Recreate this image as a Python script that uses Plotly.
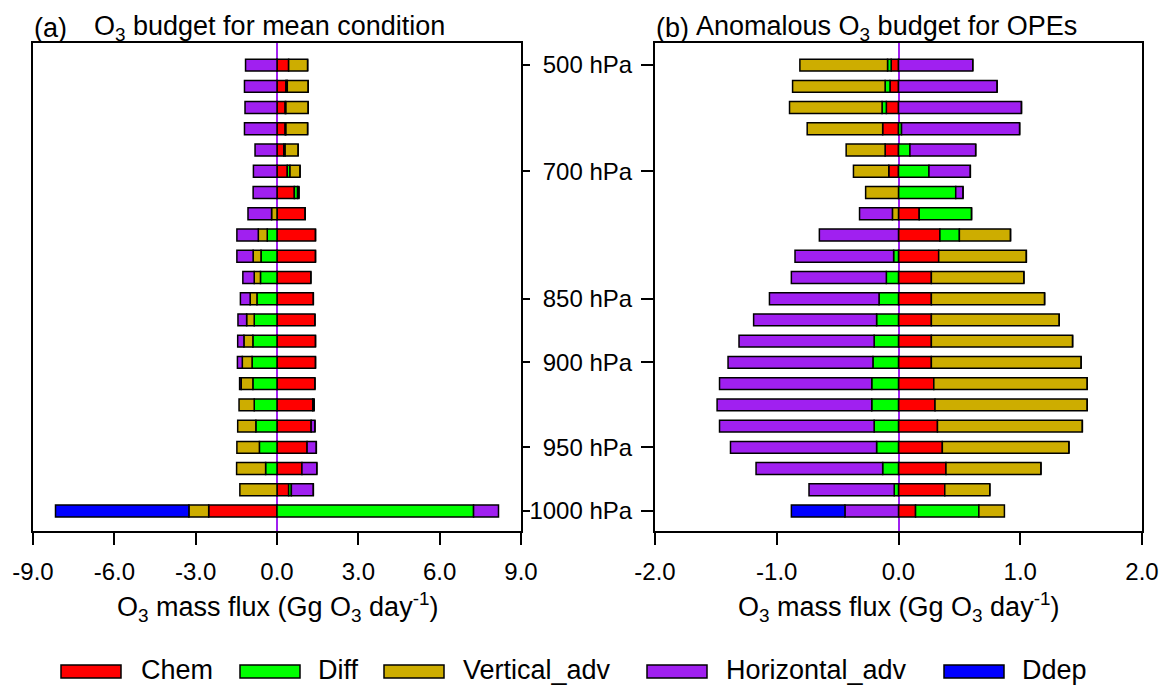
import plotly.graph_objects as go

# ---------------- data ----------------
levels = list(range(22))  # model levels from 500 hPa (top) to 1000 hPa (bottom)
tick_levels = [0, 5, 11, 14, 18, 21]
tick_text = ["500 hPa", "700 hPa", "850 hPa", "900 hPa", "950 hPa", "1000 hPa"]

names = ["Chem", "Diff", "Vertical_adv", "Horizontal_adv", "Ddep"]
colors = ["#FF0000", "#00FF00", "#CDAD00", "#A020F0", "#0000FF"]

# (a) mean condition
a_chem = [0.43, 0.33, 0.30, 0.30, 0.25, 0.38, 0.64, 1.04, 1.42, 1.42, 1.25,
          1.34, 1.40, 1.42, 1.42, 1.40, 1.32, 1.26, 1.11, 0.92, 0.43, -2.52]
a_diff = [0.0, 0.05, 0.03, 0.03, 0.05, 0.10, 0.12, 0.0, -0.36, -0.59, -0.61,
          -0.74, -0.84, -0.89, -0.92, -0.89, -0.84, -0.78, -0.65, -0.42, 0.10, 7.25]
a_vadv = [0.70, 0.77, 0.82, 0.80, 0.48, 0.37, 0.05, -0.20, -0.33, -0.29, -0.23,
          -0.25, -0.28, -0.33, -0.36, -0.43, -0.56, -0.67, -0.83, -1.07, -1.37, -0.73]
a_hadv = [-1.16, -1.20, -1.18, -1.20, -0.81, -0.87, -0.88, -0.87, -0.79, -0.60, -0.42,
          -0.36, -0.32, -0.23, -0.18, -0.06, 0.05, 0.14, 0.34, 0.55, 0.81, 0.92]
a_ddep = [0.0] * 21 + [-4.92]

# (b) anomalous budget for OPEs
b_chem = [-0.06, -0.07, -0.10, -0.13, -0.11, -0.08, 0.0, 0.17, 0.34, 0.33, 0.27,
          0.27, 0.27, 0.27, 0.27, 0.29, 0.30, 0.32, 0.36, 0.39, 0.38, 0.14]
b_diff = [-0.03, -0.04, -0.035, 0.025, 0.094, 0.25, 0.47, 0.43, 0.16, -0.04, -0.10,
          -0.16, -0.18, -0.20, -0.21, -0.22, -0.22, -0.20, -0.18, -0.13, -0.035, 0.52]
b_vadv = [-0.72, -0.76, -0.76, -0.62, -0.32, -0.29, -0.27, -0.05, 0.42, 0.72, 0.76,
          0.93, 1.05, 1.16, 1.23, 1.26, 1.25, 1.19, 1.04, 0.78, 0.37, 0.21]
b_hadv = [0.61, 0.81, 1.01, 0.97, 0.54, 0.34, 0.06, -0.27, -0.65, -0.81, -0.78,
          -0.90, -1.01, -1.11, -1.19, -1.25, -1.27, -1.27, -1.20, -1.04, -0.70, -0.44]
b_ddep = [0.0] * 21 + [-0.44]

a_xticks = [-9, -6, -3, 0, 3, 6, 9]
b_xticks = [-2, -1, 0, 1, 2]

# ---------------- layout helpers ----------------
W, H = 1165, 685
ML, MR, MT, MB = 33, 23, 43, 154
PW, PH = W - ML - MR, H - MT - MB
FONT = "Liberation Sans, Arial, Helvetica, sans-serif"


def px(x):
    return (x - ML) / PW


def py(y):
    return 1 - (y - MT) / PH


fig = go.Figure()

series_a = [a_chem, a_diff, a_vadv, a_hadv, a_ddep]
series_b = [b_chem, b_diff, b_vadv, b_hadv, b_ddep]

for vals, name, col in zip(series_a, names, colors):
    fig.add_trace(go.Bar(y=levels, x=vals, orientation="h", name=name,
                         marker=dict(color=col, line=dict(color="black", width=1.5)),
                         width=0.56, xaxis="x", yaxis="y", showlegend=False))
for vals, name, col in zip(series_b, names, colors):
    fig.add_trace(go.Bar(y=levels, x=vals, orientation="h", name=name,
                         marker=dict(color=col, line=dict(color="black", width=1.5)),
                         width=0.56, xaxis="x2", yaxis="y2", showlegend=False))

yrange = [21.94, -1.04]
axis_common = dict(showline=True, linecolor="black", linewidth=2, mirror=True,
                   showgrid=False, tickcolor="black", tickwidth=2, automargin=False,
                   tickfont=dict(size=24, color="black", family=FONT))

fig.update_layout(
    width=W, height=H, barmode="relative",
    margin=dict(l=ML, r=MR, t=MT, b=MB),
    paper_bgcolor="white", plot_bgcolor="white",
    font=dict(family=FONT, color="black"),
    xaxis=dict(domain=[0, px(521)], range=[-9, 9], anchor="y",
               tickvals=a_xticks, ticktext=[f"{v:.1f}" for v in a_xticks],
               ticks="outside", ticklen=12, ticklabelstandoff=6,
               zeroline=True, zerolinecolor="#A020F0", zerolinewidth=1.5,
               **axis_common),
    yaxis=dict(domain=[0, 1], range=yrange, anchor="x", side="right",
               tickvals=tick_levels, ticks="outside", ticklen=7,
               showticklabels=False, zeroline=False, **axis_common),
    xaxis2=dict(domain=[px(655), 1], range=[-2, 2], anchor="y2",
                tickvals=b_xticks, ticktext=[f"{v:.1f}" for v in b_xticks],
                ticks="outside", ticklen=12, ticklabelstandoff=6,
                zeroline=True, zerolinecolor="#A020F0", zerolinewidth=1.5,
                **axis_common),
    yaxis2=dict(domain=[0, 1], range=yrange, anchor="x2", side="left",
                tickvals=tick_levels, ticktext=tick_text, ticks="outside",
                ticklen=12, ticklabelstandoff=4, zeroline=False, **axis_common),
)

ann = []
ty = py(28)
ann.append(dict(text="(a)", x=px(32), y=ty, xanchor="left", yanchor="middle"))
ann.append(dict(text="O<sub>3</sub> budget for mean condition", x=px(92), y=ty,
                xanchor="left", yanchor="middle"))
ann.append(dict(text="(b)", x=px(654), y=ty, xanchor="left", yanchor="middle"))
ann.append(dict(text="Anomalous O<sub>3</sub> budget for OPEs", x=px(694), y=ty,
                xanchor="left", yanchor="middle"))
for a in ann:
    a.update(xref="paper", yref="paper", showarrow=False,
             font=dict(size=27, color="black", family=FONT))

xt = "O<sub>3</sub> mass flux (Gg O<sub>3</sub> day<sup>-1</sup>)"
for cx in [(33 + 521) / 2, (655 + 1142) / 2]:
    ann.append(dict(text=xt, x=px(cx), y=py(607), xref="paper", yref="paper",
                    xanchor="center", yanchor="middle", showarrow=False,
                    font=dict(size=27, color="black", family=FONT)))

# custom legend (wide boxes like the original)
leg_box_x = [61, 240, 384, 647, 944]
leg_txt_x = [139, 316, 461, 724, 1020]
shapes = []
for bx, tx, name, col in zip(leg_box_x, leg_txt_x, names, colors):
    shapes.append(dict(type="rect", xref="paper", yref="paper",
                       x0=px(bx), x1=px(bx + 60), y0=py(678), y1=py(665),
                       fillcolor=col, line=dict(color="black", width=1.5)))
    ann.append(dict(text=name, x=px(tx), y=py(670), xref="paper", yref="paper",
                    xanchor="left", yanchor="middle", showarrow=False,
                    font=dict(size=27, color="black", family=FONT)))

fig.update_layout(annotations=ann, shapes=shapes)
fig.write_html("out.html")
